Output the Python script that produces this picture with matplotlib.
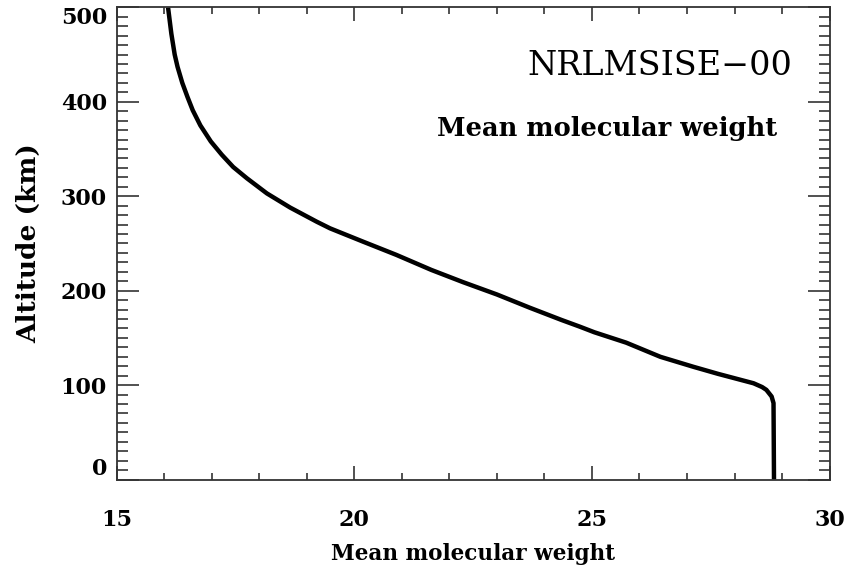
import numpy as np
import matplotlib.pyplot as plt
from matplotlib.ticker import MultipleLocator

# NRLMSISE-00 mean molecular weight profile
altitude = [0, 81, 88, 95, 98, 102, 106, 112, 119.5, 130, 145, 156, 162, 169,
            182, 196, 209, 222, 238, 252, 266, 273, 288, 303, 319, 331, 344,
            358, 375, 391, 405, 420, 437, 450, 472, 500]
mean_mw = [28.83, 28.82, 28.78, 28.67, 28.58, 28.40, 28.10, 27.65, 27.13, 26.44,
           25.72, 25.05, 24.74, 24.36, 23.69, 23.00, 22.29, 21.62, 20.88, 20.18,
           19.49, 19.21, 18.65, 18.16, 17.74, 17.45, 17.21, 16.98, 16.76, 16.60,
           16.49, 16.38, 16.28, 16.22, 16.15, 16.08]

x_ticks = [15, 20, 25, 30]
y_ticks = [0, 100, 200, 300, 400, 500]

serif = 'DejaVu Serif'
axis_col = '#333333'

fig = plt.figure(figsize=(8.5, 5.72), dpi=100)
ax = fig.add_axes([0.1373, 0.1615, 0.976 - 0.1373, 0.9872 - 0.1615])

ax.plot(mean_mw, altitude, color='black', lw=3.2, solid_capstyle='butt',
        solid_joinstyle='round')

ax.set_xlim(15, 30)
ax.set_ylim(0, 500)
ax.set_xticks(x_ticks)
ax.set_yticks(y_ticks)
ax.xaxis.set_minor_locator(MultipleLocator(1))
ax.yaxis.set_minor_locator(MultipleLocator(10))

ax.tick_params(which='both', direction='in', top=True, right=True,
               color=axis_col, width=1.2)
ax.tick_params(axis='x', which='major', length=10, pad=21)
ax.tick_params(axis='x', which='minor', length=5)
ax.tick_params(axis='y', which='major', length=16, pad=7)
ax.tick_params(axis='y', which='minor', length=8)

for lab in ax.get_xticklabels() + ax.get_yticklabels():
    lab.set_fontfamily(serif)
    lab.set_fontsize(16)
    lab.set_fontweight('bold')

# keep the end labels inside the frame
ylabs = ax.get_yticklabels()
ylabs[0].set_verticalalignment('bottom')
ylabs[-1].set_verticalalignment('top')

for sp in ax.spines.values():
    sp.set_color(axis_col)
    sp.set_linewidth(1.3)

ax.set_xlabel('Mean molecular weight', fontfamily=serif, fontsize=15.5,
              fontweight='bold', labelpad=9)
ax.set_ylabel('Altitude (km)', fontfamily=serif, fontsize=19,
              fontweight='bold', labelpad=14)

ax.text(0.948, 0.875, 'NRLMSISE\u221200', transform=ax.transAxes, ha='right',
        va='center', fontfamily=serif, fontsize=24)
ax.text(0.927, 0.744, 'Mean molecular weight', transform=ax.transAxes,
        ha='right', va='center', fontfamily=serif, fontsize=18.5,
        fontweight='bold')

fig.savefig('out.png', dpi=100, facecolor='white')
